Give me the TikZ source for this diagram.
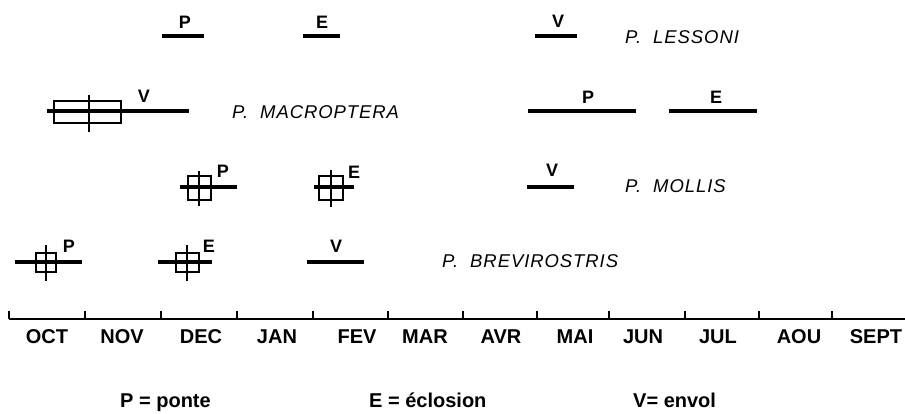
\documentclass[tikz,border=0pt]{standalone}
\usepackage{fontspec}
\setmainfont{Liberation Sans}
\newfontfamily\speciesfont[LetterSpace=5]{Liberation Sans}
\usetikzlibrary{positioning}

\begin{document}
\begin{tikzpicture}[x=1pt, y=-1pt,
  bar/.style={line width=3.6pt},
  frame/.style={line width=2.8pt},
  tag/.style={font=\bfseries\fontsize{18}{20}\selectfont, inner sep=0pt, anchor=base},
  species/.style={font=\speciesfont\itshape\fontsize{18.5}{20}\selectfont, inner sep=0pt, anchor=base west},
  month/.style={font=\bfseries\fontsize{20}{22}\selectfont, inner sep=0pt, anchor=base},
  legend/.style={font=\bfseries\fontsize{20}{22}\selectfont, inner sep=0pt, anchor=base west}]
  \useasboundingbox (0,0) rectangle (905,414);

  % P. lessoni
  \draw[bar] (162,36) -- (204,36);
  \node[tag] (lesP) at (185,28.5) {P};
  \draw[bar] (303,36) -- (340,36);
  \node[tag] (lesE) at (322,28.5) {E};
  \draw[bar] (535,36) -- (577,36);
  \node[tag] (lesV) at (558,28) {V};
  \node[species] (lessoni) at (625,44) {P.\hspace{12pt}LESSONI};

  % P. macroptera
  \draw[bar] (47,111) -- (189,111);
  \draw[frame] (54,101) rectangle (121,123);
  \draw[frame] (89,95) -- (89,132);
  \node[tag] (macV) at (144,103) {V};
  \node[species] (macroptera) at (232,119) {P.\hspace{12pt}MACROPTERA};
  \draw[bar] (528,111) -- (636,111);
  \node[tag] (macP) at (588,104) {P};
  \draw[bar] (669,111) -- (757,111);
  \node[tag] (macE) at (716,104) {E};

  % P. mollis
  \draw[bar] (180,187) -- (237,187);
  \draw[frame] (188,176) rectangle (211,200);
  \draw[frame] (199,171) -- (199,206);
  \node[tag] (molP) at (223,178) {P};
  \draw[bar] (314,187) -- (354,187);
  \draw[frame] (319,176) rectangle (343,200);
  \draw[frame] (331,170) -- (331,207);
  \node[tag] (molE) at (354,179) {E};
  \draw[bar] (527,187) -- (574,187);
  \node[tag] (molV) at (552,177) {V};
  \node[species] (mollis) at (625,193) {P.\hspace{12pt}MOLLIS};

  % P. brevirostris
  \draw[bar] (15,262) -- (82,262);
  \draw[frame] (36,253) rectangle (56,272);
  \draw[frame] (46,245) -- (46,281);
  \node[tag] (breP) at (69,253) {P};
  \draw[bar] (158,262) -- (212,262);
  \draw[frame] (176,253) rectangle (199,272);
  \draw[frame] (187,245) -- (187,281);
  \node[tag] (breE) at (209,253) {E};
  \draw[bar] (307,262) -- (364,262);
  \node[tag] (breV) at (336,253) {V};
  \node[species] (brevirostris) at (442,267) {P.\hspace{12pt}BREVIROSTRIS};

  % Axis
  \draw[line width=2pt] (9,319) -- (905,319);
  \foreach \x in {9,85,161,237,313,388,463,537,609,685,759,832}
    \draw[line width=1.6pt] (\x,311) -- (\x,319);
  \foreach \x/\m in {47/OCT,122/NOV,201/DEC,277/JAN,357/FEV,425/MAR,501/AVR,575/MAI,643/JUN,718/JUL,799/AOU,876/SEPT}
    \node[month] (m-\m) at (\x,343.5) {\m};

  % Legend
  \node[legend] (legP) at (120,407) {P = ponte};
  \node[legend] (legE) at (369,407) {E = éclosion};
  \node[legend] (legV) at (633,407) {V= envol};
\end{tikzpicture}
\end{document}
